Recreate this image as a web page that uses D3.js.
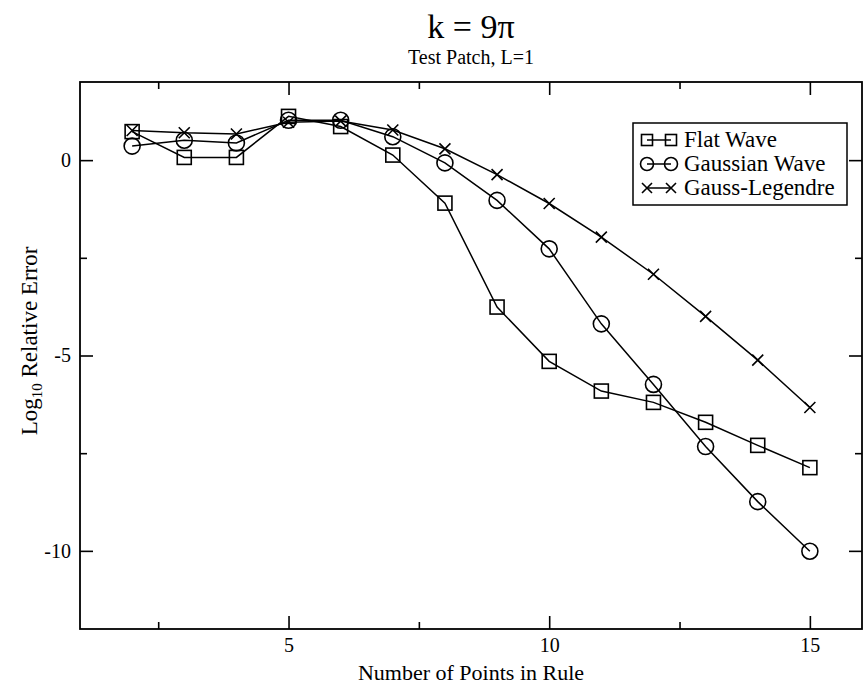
<!DOCTYPE html>
<html>
<head>
<meta charset="utf-8">
<script src="https://cdn.jsdelivr.net/npm/d3@7"></script>
<style>
  html, body { margin: 0; padding: 0; background: #fff; }
  svg { display: block; }
  text { font-family: "Liberation Serif", "Times New Roman", serif; fill: #000; }
</style>
</head>
<body>
<svg id="chart" width="863" height="685"></svg>
<script>
// ---- data ----
const points = [2, 3, 4, 5, 6, 7, 8, 9, 10, 11, 12, 13, 14, 15];
const flatWave = [0.73, 0.07, 0.07, 1.12, 0.86, 0.13, -1.1, -3.76, -5.15, -5.91, -6.2, -6.71, -7.3, -7.87];
const gaussianWave = [0.36, 0.51, 0.44, 1.02, 1.02, 0.6, -0.07, -1.03, -2.27, -4.19, -5.74, -7.33, -8.74, -10.01];
const gaussLegendre = [0.76, 0.7, 0.67, 0.97, 1.0, 0.77, 0.29, -0.37, -1.11, -1.97, -2.92, -4.0, -5.12, -6.33];
const seriesNames = ["Flat Wave", "Gaussian Wave", "Gauss-Legendre"];
const xMajorTicks = [5, 10, 15];
const xMinorTicks = [2.5, 7.5, 12.5];
const yMajorTicks = [0, -5, -10];
const yMinorTicks = [-2.5, -7.5];
const titleText = "k = 9\u03C0";
const subtitleText = "Test Patch, L=1";
const xLabel = "Number of Points in Rule";

// ---- layout ----
const svg = d3.select("#chart");
const L = 80, R = 862, T = 82, B = 629;
const x = d3.scaleLinear().domain([1, 16]).range([L, R]);
const y = d3.scaleLinear().domain([-12, 2]).range([B, T]);

const series = [
  { name: seriesNames[0], values: flatWave, marker: "square" },
  { name: seriesNames[1], values: gaussianWave, marker: "circle" },
  { name: seriesNames[2], values: gaussLegendre, marker: "cross" }
];

function drawMarker(g, type, cx, cy, s) {
  if (type === "square") {
    g.append("rect").attr("x", cx - s / 2).attr("y", cy - s / 2)
      .attr("width", s).attr("height", s)
      .attr("fill", "none").attr("stroke", "#000").attr("stroke-width", 1.6);
  } else if (type === "circle") {
    g.append("circle").attr("cx", cx).attr("cy", cy).attr("r", s / 2)
      .attr("fill", "none").attr("stroke", "#000").attr("stroke-width", 1.6);
  } else {
    const h = s / 2;
    g.append("path")
      .attr("d", `M${cx - h},${cy - h}L${cx + h},${cy + h}M${cx - h},${cy + h}L${cx + h},${cy - h}`)
      .attr("stroke", "#000").attr("stroke-width", 1.6).attr("fill", "none");
  }
}

// axes (ticks inward)
const fmt = d => String(d); // plain hyphen minus as in the reference
const axG = svg.append("g");
function addAxis(axisFn, scale, ticks, size, transform, labels) {
  const a = axisFn(scale).tickValues(ticks).tickSizeInner(-size).tickSizeOuter(0)
    .tickPadding(8).tickFormat(labels ? fmt : "");
  const g = axG.append("g").attr("transform", transform).call(a);
  g.select(".domain").remove();
  g.selectAll(".tick line").attr("stroke", "#000").attr("stroke-width", 1.6);
  g.selectAll(".tick text").attr("font-size", 20)
    .style("font-family", '"Liberation Serif", serif').attr("fill", "#000");
  return g;
}
const gxb = addAxis(d3.axisBottom, x, xMajorTicks, 13, `translate(0,${B})`, true);
gxb.selectAll(".tick text").attr("dy", "0.71em").attr("y", 9);
addAxis(d3.axisBottom, x, xMinorTicks, 7, `translate(0,${B})`, false);
addAxis(d3.axisTop, x, xMajorTicks, 13, `translate(0,${T})`, false);
addAxis(d3.axisTop, x, xMinorTicks, 7, `translate(0,${T})`, false);
const gyl = addAxis(d3.axisLeft, y, yMajorTicks, 13, `translate(${L},0)`, true);
gyl.selectAll(".tick text").attr("x", -9);
addAxis(d3.axisLeft, y, yMinorTicks, 7, `translate(${L},0)`, false);
addAxis(d3.axisRight, y, yMajorTicks, 13, `translate(${R},0)`, false);
addAxis(d3.axisRight, y, yMinorTicks, 7, `translate(${R},0)`, false);

// frame
svg.append("rect").attr("x", L).attr("y", T).attr("width", R - L).attr("height", B - T)
  .attr("fill", "none").attr("stroke", "#000").attr("stroke-width", 1.8);

// series
const line = d3.line().x(d => x(d[0])).y(d => y(d[1]));
const sizes = { square: 14, circle: 16, cross: 11 };
series.forEach(s => {
  const data = points.map((p, i) => [p, s.values[i]]);
  svg.append("path").datum(data).attr("d", line)
    .attr("fill", "none").attr("stroke", "#000").attr("stroke-width", 1.5);
  const mg = svg.append("g");
  data.forEach(d => drawMarker(mg, s.marker, x(d[0]), y(d[1]), sizes[s.marker]));
});

// legend
const lg = svg.append("g");
lg.append("rect").attr("x", 633).attr("y", 123).attr("width", 214).attr("height", 82)
  .attr("fill", "#fff").attr("stroke", "#000").attr("stroke-width", 1.5);
const legendSizes = { square: 11, circle: 13, cross: 10 };
series.forEach((s, i) => {
  const cy = 140 + i * 24;
  lg.append("line").attr("x1", 647).attr("x2", 671).attr("y1", cy).attr("y2", cy)
    .attr("stroke", "#000").attr("stroke-width", 1.5);
  drawMarker(lg, s.marker, 647, cy, legendSizes[s.marker]);
  drawMarker(lg, s.marker, 671, cy, legendSizes[s.marker]);
  lg.append("text").attr("x", 684).attr("y", cy + 7).attr("font-size", 23).text(s.name);
});

// titles
svg.append("text").attr("x", 471).attr("y", 38).attr("text-anchor", "middle")
  .attr("font-size", 34).text(titleText);
svg.append("text").attr("x", 471).attr("y", 64).attr("text-anchor", "middle")
  .attr("font-size", 20).text(subtitleText);
svg.append("text").attr("x", 471).attr("y", 680).attr("text-anchor", "middle")
  .attr("font-size", 22).text(xLabel);

// y label with subscript
const yl = svg.append("text").attr("transform", "translate(37,341) rotate(-90)")
  .attr("text-anchor", "middle").attr("font-size", 23);
yl.append("tspan").text("Log");
yl.append("tspan").attr("font-size", 15).attr("dy", 5).text("10");
yl.append("tspan").attr("dy", -5).text(" Relative Error");
</script>
</body>
</html>
